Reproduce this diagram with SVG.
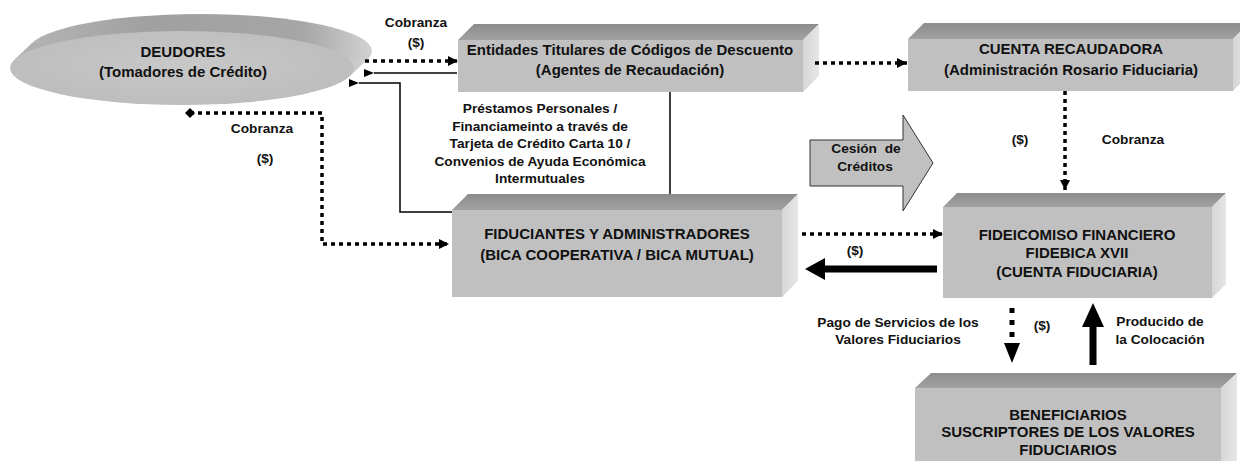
<svg xmlns="http://www.w3.org/2000/svg" width="1240" height="461" viewBox="0 0 1240 461">
<style>
.front{fill:#c0c0c0}
.top{fill:url(#topG)}
.side{fill:url(#sideG)}
.t{font-family:"Liberation Sans",Arial,sans-serif;font-weight:bold;font-size:15px;fill:#111;text-anchor:middle}
.l{font-family:"Liberation Sans",Arial,sans-serif;font-weight:bold;font-size:13.7px;fill:#111;text-anchor:middle}
.dot{fill:none;stroke:#000;stroke-width:3.5;stroke-dasharray:4 4}
.thin{fill:none;stroke:#000;stroke-width:1.5}
</style>
<defs>
<linearGradient id="topG" x1="0" y1="0" x2="0" y2="1"><stop offset="0" stop-color="#8c8c8c"/><stop offset="1" stop-color="#a2a2a2"/></linearGradient>
<linearGradient id="sideG" x1="0" y1="0" x2="1" y2="0"><stop offset="0" stop-color="#d6d6d6"/><stop offset="1" stop-color="#e6e6e6"/></linearGradient>
<linearGradient id="rimG" x1="0" y1="0" x2="1" y2="0"><stop offset="0" stop-color="#b4b4b4"/><stop offset="0.35" stop-color="#a0a0a0"/><stop offset="0.8" stop-color="#a6a6a6"/><stop offset="1" stop-color="#d2d2d2"/></linearGradient>
<radialGradient id="faceG" cx="0.5" cy="0.45" r="0.6"><stop offset="0" stop-color="#c8c8c8"/><stop offset="1" stop-color="#bcbcbc"/></radialGradient>
<marker id="ah" markerUnits="userSpaceOnUse" markerWidth="11" markerHeight="10" refX="10" refY="5" orient="auto"><path d="M0,0 L10,5 L0,10 z" fill="#000"/></marker>
<marker id="ahs" markerUnits="userSpaceOnUse" markerWidth="10" markerHeight="8" refX="0" refY="4" orient="auto"><path d="M0,4 L10,0 L10,8 z" fill="#000"/></marker>
<marker id="dia" markerUnits="userSpaceOnUse" markerWidth="10" markerHeight="10" refX="5" refY="5"><path d="M0,5 L5,0 L10,5 L5,10 z" fill="#000"/></marker>
</defs>
<rect width="1240" height="461" fill="#fff"/>

<g id="deudores">
<ellipse cx="200" cy="51" rx="172" ry="37" fill="url(#rimG)"/>
<polygon points="14.3,59.8 349.7,76.2 367.7,59.2 32.3,42.8" fill="url(#rimG)"/>
<ellipse cx="182" cy="68" rx="172" ry="37" fill="url(#faceG)"/>
<text class="t" x="183" y="57">DEUDORES</text>
<text class="t" x="183" y="77">(Tomadores de Crédito)</text>
</g>

<g id="entidades">
<polygon class="top" points="458,40 474,24 819,24 803,40"/>
<polygon class="side" points="803,40 819,24 819,76 803,92"/>
<rect class="front" x="458" y="40" width="345" height="52"/>
<text class="t" x="630" y="55">Entidades Titulares de Códigos de Descuento</text>
<text class="t" x="630" y="75">(Agentes de Recaudación)</text>
</g>

<g id="cuenta-recaudadora">
<polygon class="top" points="908,39 924,23 1249,23 1233,39"/>
<polygon class="side" points="1233,39 1249,23 1249,75 1233,91"/>
<rect class="front" x="908" y="39" width="325" height="52"/>
<text class="t" x="1071" y="54">CUENTA RECAUDADORA</text>
<text class="t" x="1071" y="75">(Administración Rosario Fiduciaria)</text>
</g>

<g id="fiduciantes">
<polygon class="top" points="452,210 468,194 798,194 782,210"/>
<polygon class="side" points="782,210 798,194 798,281 782,297"/>
<rect class="front" x="452" y="210" width="330" height="87"/>
<text class="t" x="617" y="239">FIDUCIANTES Y ADMINISTRADORES</text>
<text class="t" x="617" y="260">(BICA COOPERATIVA / BICA MUTUAL)</text>
</g>

<g id="fideicomiso">
<polygon class="top" points="943,207 957,193 1226,193 1212,207"/>
<polygon class="side" points="1212,207 1226,193 1226,284 1212,298"/>
<rect class="front" x="943" y="207" width="269" height="91"/>
<text class="t" x="1077" y="240">FIDEICOMISO FINANCIERO</text>
<text class="t" x="1077" y="258">FIDEBICA XVII</text>
<text class="t" x="1077" y="277">(CUENTA FIDUCIARIA)</text>
</g>

<g id="beneficiarios">
<polygon class="top" points="915,388 931,373 1237,373 1221,388"/>
<polygon class="side" points="1221,388 1237,373 1237,461 1221,461"/>
<rect class="front" x="915" y="388" width="306" height="80"/>
<text class="t" x="1068" y="420">BENEFICIARIOS</text>
<text class="t" x="1068" y="437">SUSCRIPTORES DE LOS VALORES</text>
<text class="t" x="1068" y="455">FIDUCIARIOS</text>
</g>

<g id="cesion">
<polygon points="810,140 903,140 903,115 933,163 903,211 903,186 810,186" fill="#c0c0c0" stroke="#333" stroke-width="1"/>
<text class="l" x="866" y="153" word-spacing="4">Cesión de</text>
<text class="l" x="865" y="171">Créditos</text>
</g>

<g id="connectors">
<path class="dot" d="M365,61 H458" marker-end="url(#ah)"/>
<path class="thin" d="M457,73 H374" marker-end="url(#ahs)"/>
<path class="thin" d="M452,212 H400 V83 H359" marker-end="url(#ahs)"/>
<path class="thin" d="M670,92 V194"/>
<path class="dot" d="M190,113 H322 V244 H449" marker-start="url(#dia)" marker-end="url(#ah)"/>
<path class="dot" d="M815,63 H907" marker-end="url(#ah)"/>
<path class="dot" d="M1065,91 V190" stroke-width="3" marker-end="url(#ah)"/>
<path class="dot" d="M802,234 H943" stroke-width="3" marker-end="url(#ah)"/>
<polygon points="937,265.5 825,265.5 825,258 805,269 825,280 825,272.5 937,272.5" fill="#000"/>
<path d="M1012,308 V345" fill="none" stroke="#000" stroke-width="5" stroke-dasharray="5 7"/>
<polygon points="1004,343 1020,343 1012,363" fill="#000"/>
<polygon points="1089.5,365 1089.5,327 1082,327 1093,303 1104,327 1096.5,327 1096.5,365" fill="#000"/>
</g>

<g id="labels">
<text class="l" x="416" y="27">Cobranza</text>
<text class="l" x="416" y="47">($)</text>
<text class="l" x="262" y="133">Cobranza</text>
<text class="l" x="265" y="163">($)</text>
<text class="l" x="540" y="113">Préstamos Personales /</text>
<text class="l" x="540" y="130.5">Financiameinto a través de</text>
<text class="l" x="540" y="148">Tarjeta de Crédito Carta 10 /</text>
<text class="l" x="540" y="165.5">Convenios de Ayuda Económica</text>
<text class="l" x="540" y="183">Intermutuales</text>
<text class="l" x="1020" y="144">($)</text>
<text class="l" x="1133" y="144">Cobranza</text>
<text class="l" x="855" y="255">($)</text>
<text class="l" x="898" y="327">Pago de Servicios de los</text>
<text class="l" x="898" y="344">Valores Fiduciarios</text>
<text class="l" x="1042" y="330">($)</text>
<text class="l" x="1160" y="326">Producido de</text>
<text class="l" x="1160" y="344">la Colocación</text>
</g>
</svg>
